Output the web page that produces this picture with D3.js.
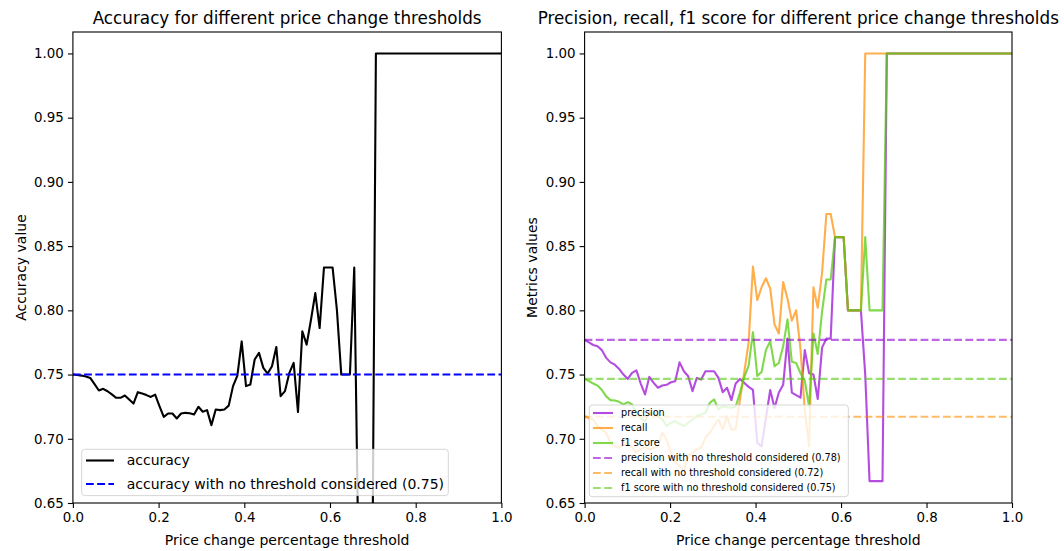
<!DOCTYPE html>
<html>
<head>
<meta charset="utf-8">
<script src="https://cdn.jsdelivr.net/npm/d3@7"></script>
<style>
  body { margin: 0; background: #fff; }
  text { font-family: "DejaVu Sans", sans-serif; fill: #000; }
</style>
</head>
<body>
<div id="chart"></div>
<script>
// thresholds (x) shared by both panels: 100 evenly spaced steps from 0 to 1
const thresholds = [
  0.0000, 0.0101, 0.0202, 0.0303, 0.0404, 0.0505, 0.0606, 0.0707, 0.0808, 0.0909,
  0.1010, 0.1111, 0.1212, 0.1313, 0.1414, 0.1515, 0.1616, 0.1717, 0.1818, 0.1919,
  0.2020, 0.2121, 0.2222, 0.2323, 0.2424, 0.2525, 0.2626, 0.2727, 0.2828, 0.2929,
  0.3030, 0.3131, 0.3232, 0.3333, 0.3434, 0.3535, 0.3636, 0.3737, 0.3838, 0.3939,
  0.4040, 0.4141, 0.4242, 0.4343, 0.4444, 0.4545, 0.4646, 0.4747, 0.4848, 0.4949,
  0.5051, 0.5152, 0.5253, 0.5354, 0.5455, 0.5556, 0.5657, 0.5758, 0.5859, 0.5960,
  0.6061, 0.6162, 0.6263, 0.6364, 0.6465, 0.6566, 0.6667, 0.6768, 0.6869, 0.6970,
  0.7071, 0.7172, 0.7273, 0.7374, 0.7475, 0.7576, 0.7677, 0.7778, 0.7879, 0.7980,
  0.8081, 0.8182, 0.8283, 0.8384, 0.8485, 0.8586, 0.8687, 0.8788, 0.8889, 0.8990,
  0.9091, 0.9192, 0.9293, 0.9394, 0.9495, 0.9596, 0.9697, 0.9798, 0.9899, 1.0000
];
const accuracy = [
  0.750, 0.7496, 0.7492, 0.7485, 0.7474, 0.7425, 0.7376, 0.7389, 0.7370, 0.7345,
  0.7319, 0.7319, 0.7337, 0.7305, 0.7274, 0.7363, 0.7352, 0.7340, 0.7326, 0.7344,
  0.7255, 0.7171, 0.7197, 0.7197, 0.7158, 0.7197, 0.7202, 0.7199, 0.7189, 0.7249,
  0.7210, 0.7223, 0.7106, 0.7228, 0.7223, 0.7228, 0.7258, 0.7410, 0.7492, 0.7758,
  0.7410, 0.7423, 0.7617, 0.7669, 0.7552, 0.7508, 0.7565, 0.7715, 0.7332, 0.7371,
  0.7513, 0.7591, 0.7208, 0.7836, 0.7733, 0.7927, 0.8134, 0.7862, 0.8333, 0.8333,
  0.8333, 0.8000, 0.7500, 0.7500, 0.7500, 0.8333, 0.6000, 0.5000, 0.5000, 0.5000,
  1, 1, 1, 1, 1, 1, 1, 1, 1, 1,
  1, 1, 1, 1, 1, 1, 1, 1, 1, 1,
  1, 1, 1, 1, 1, 1, 1, 1, 1, 1
];
const precision = [
  0.777, 0.775, 0.773, 0.772, 0.769, 0.763, 0.7595, 0.7577, 0.7544, 0.750,
  0.7466, 0.7513, 0.7533, 0.743, 0.7345, 0.7482, 0.7435, 0.7397, 0.7415, 0.7420,
  0.7440, 0.7448, 0.7595, 0.7526, 0.7487, 0.7371, 0.7474, 0.7461, 0.7526, 0.7526,
  0.7526, 0.7474, 0.7363, 0.7397, 0.7301, 0.7430, 0.7466, 0.7435, 0.7404, 0.738,
  0.697, 0.694, 0.716, 0.738, 0.724, 0.736, 0.742, 0.778, 0.736, 0.734,
  0.732, 0.769, 0.751, 0.750, 0.731, 0.771, 0.778, 0.778, 0.857, 0.857,
  0.857, 0.800, 0.800, 0.800, 0.800, 0.750, 0.667, 0.667, 0.667, 0.667,
  1, 1, 1, 1, 1, 1, 1, 1, 1, 1,
  1, 1, 1, 1, 1, 1, 1, 1, 1, 1,
  1, 1, 1, 1, 1, 1, 1, 1, 1, 1
];
const recall = [
  0.7176, 0.716, 0.715, 0.7099, 0.707, 0.7047, 0.697, 0.6944, 0.6931, 0.695,
  0.697, 0.6931, 0.6892, 0.692, 0.6935, 0.6918, 0.693, 0.6944, 0.7047, 0.6996,
  0.6892, 0.6815, 0.6789, 0.675, 0.6867, 0.6892, 0.6918, 0.6931, 0.7009, 0.7047,
  0.710, 0.715, 0.7073, 0.7176, 0.7073, 0.7073, 0.7306, 0.752, 0.775, 0.834,
  0.808, 0.818, 0.825, 0.817, 0.789, 0.782, 0.822, 0.809, 0.792, 0.800,
  0.770, 0.722, 0.694, 0.818, 0.802, 0.829, 0.875, 0.875, 0.857, 0.857,
  0.857, 0.800, 0.800, 0.800, 0.800, 1, 1, 1, 1, 1,
  1, 1, 1, 1, 1, 1, 1, 1, 1, 1,
  1, 1, 1, 1, 1, 1, 1, 1, 1, 1,
  1, 1, 1, 1, 1, 1, 1, 1, 1, 1
];
const f1score = [
  0.7466, 0.745, 0.743, 0.7414, 0.738, 0.733, 0.7301, 0.7298, 0.7288, 0.7267,
  0.7285, 0.7267, 0.7203, 0.7160, 0.7138, 0.7203, 0.7190, 0.7177, 0.7151, 0.7099,
  0.7125, 0.7138, 0.7115, 0.7099, 0.7125, 0.7150, 0.7177, 0.7190, 0.7203, 0.7280,
  0.7306, 0.7228, 0.7254, 0.7245, 0.7241, 0.7250, 0.736, 0.748, 0.757, 0.783,
  0.749, 0.752, 0.769, 0.776, 0.7565, 0.759, 0.772, 0.793, 0.760, 0.759,
  0.751, 0.745, 0.725, 0.782, 0.766, 0.799, 0.824, 0.824, 0.857, 0.857,
  0.857, 0.800, 0.800, 0.800, 0.800, 0.857, 0.800, 0.800, 0.800, 0.800,
  1, 1, 1, 1, 1, 1, 1, 1, 1, 1,
  1, 1, 1, 1, 1, 1, 1, 1, 1, 1,
  1, 1, 1, 1, 1, 1, 1, 1, 1, 1
];
// baselines with no threshold
const baseAccuracy = 0.75;
const basePrecision = 0.777;
const baseRecall = 0.7172;
const baseF1 = 0.7466;
const xTicks = [0, 0.2, 0.4, 0.6, 0.8, 1.0];
const yTicks = [0.65, 0.70, 0.75, 0.80, 0.85, 0.90, 0.95, 1.00];

// ---------------------------------------------------------------------------
const width = 1064, height = 551;
const plotTop = 32, plotBottom = 503;
const lw = 2.1;            // 1.5pt
const dash = '7.8,3.4';    // matplotlib '--' at 1.5pt
const svg = d3.select('#chart').append('svg')
  .attr('width', width)
  .attr('height', height);

const y = d3.scaleLinear().domain([0.65, 1.0167]).range([plotBottom, plotTop]);

function makePanel (id, x0, x1, title, ylabel, ylabelX) {
  const x = d3.scaleLinear().domain([0, 1]).range([x0, x1]);
  const g = svg.append('g');
  svg.append('clipPath').attr('id', 'clip-' + id)
    .append('rect')
    .attr('x', x0).attr('y', plotTop)
    .attr('width', x1 - x0).attr('height', plotBottom - plotTop);
  const plot = g.append('g').attr('clip-path', 'url(#clip-' + id + ')');
  // axes
  const xAxis = g.append('g')
    .attr('transform', 'translate(0,' + plotBottom + ')')
    .call(d3.axisBottom(x).tickValues(xTicks).tickFormat(d3.format('.1f')).tickSize(5).tickPadding(4));
  const yAxis = g.append('g')
    .attr('transform', 'translate(' + x0 + ',0)')
    .call(d3.axisLeft(y).tickValues(yTicks).tickFormat(d3.format('.2f')).tickSize(5).tickPadding(4));
  [xAxis, yAxis].forEach(a => {
    a.select('.domain').remove();
    a.selectAll('text').attr('font-size', 13.4).attr('fill', '#000')
      .attr('font-family', '"DejaVu Sans", sans-serif');
    a.selectAll('line').attr('stroke', '#000').attr('stroke-width', 1.1);
  });
  // frame is drawn later so it sits over the lines
  const frame = () => g.append('rect')
    .attr('x', x0).attr('y', plotTop)
    .attr('width', x1 - x0).attr('height', plotBottom - plotTop)
    .attr('fill', 'none').attr('stroke', '#000').attr('stroke-width', 1.1);
  // labels
  g.append('text')
    .attr('x', (x0 + x1) / 2).attr('y', 24)
    .attr('text-anchor', 'middle').attr('font-size', 16.8)
    .text(title);
  g.append('text')
    .attr('x', (x0 + x1) / 2).attr('y', 545)
    .attr('text-anchor', 'middle').attr('font-size', 14)
    .text('Price change percentage threshold');
  g.append('text')
    .attr('transform', 'translate(' + ylabelX + ',' + ((plotTop + plotBottom) / 2) + ') rotate(-90)')
    .attr('text-anchor', 'middle').attr('font-size', 14)
    .text(ylabel);
  return {x, g, plot, frame};
}

function drawSeries (panel, values, color, opacity) {
  const line = d3.line()
    .x((d, i) => panel.x(thresholds[i]))
    .y(d => y(d));
  panel.plot.append('path')
    .datum(values)
    .attr('d', line)
    .attr('fill', 'none')
    .attr('stroke', color)
    .attr('stroke-opacity', opacity)
    .attr('stroke-width', lw)
    .attr('stroke-linejoin', 'round');
}

function drawBase (panel, value, color, opacity) {
  panel.plot.append('line')
    .attr('x1', panel.x(0)).attr('x2', panel.x(1))
    .attr('y1', y(value)).attr('y2', y(value))
    .attr('stroke', color)
    .attr('stroke-opacity', opacity)
    .attr('stroke-width', lw)
    .attr('stroke-dasharray', dash);
}

function drawLegend (panel, box, items, fontSize, rowY, handle, textX) {
  const lg = panel.g.append('g');
  lg.append('rect')
    .attr('x', box[0]).attr('y', box[1])
    .attr('width', box[2]).attr('height', box[3])
    .attr('rx', 3)
    .attr('fill', '#fff').attr('fill-opacity', 0.8)
    .attr('stroke', '#ccc').attr('stroke-opacity', 0.8);
  items.forEach((it, i) => {
    const cy = rowY[i];
    lg.append('line')
      .attr('x1', handle[0]).attr('x2', handle[1])
      .attr('y1', cy).attr('y2', cy)
      .attr('stroke', it.color).attr('stroke-opacity', it.opacity)
      .attr('stroke-width', lw)
      .attr('stroke-dasharray', it.dash ? dash : null);
    lg.append('text')
      .attr('x', textX).attr('y', cy)
      .attr('dy', '0.35em')
      .attr('font-size', fontSize)
      .text(it.label);
  });
}

// 左パネル: accuracy ---------------------------------------------------------
const left = makePanel('acc', 72.9, 501.4,
  'Accuracy for different price change thresholds', 'Accuracy value', 26);
drawSeries(left, accuracy, '#000', 1);
drawBase(left, baseAccuracy, '#0000ff', 1);
left.frame();
drawLegend(left, [81.7, 449.3, 366.6, 46.3], [
  {label: 'accuracy', color: '#000', opacity: 1},
  {label: 'accuracy with no threshold considered (0.75)', color: '#0000ff', opacity: 1, dash: true}
], 14, [460.5, 484], [86, 114], 126.7);

// 右パネル: precision / recall / f1 -----------------------------------------
const cPrec = '#9400d3', cRec = '#ff8c00', cF1 = '#55cc11';
const right = makePanel('prf', 584.6, 1012,
  'Precision, recall, f1 score for different price change thresholds', 'Metrics values', 537);
drawSeries(right, precision, cPrec, 0.7);
drawSeries(right, recall, cRec, 0.7);
drawSeries(right, f1score, cF1, 0.75);
drawBase(right, basePrecision, cPrec, 0.6);
drawBase(right, baseRecall, cRec, 0.6);
drawBase(right, baseF1, cF1, 0.6);
right.frame();
drawLegend(right, [589.3, 405, 259, 91.7], [
  {label: 'precision', color: cPrec, opacity: 0.7},
  {label: 'recall', color: cRec, opacity: 0.7},
  {label: 'f1 score', color: cF1, opacity: 0.75},
  {label: 'precision with no threshold considered (0.78)', color: cPrec, opacity: 0.6, dash: true},
  {label: 'recall with no threshold considered (0.72)', color: cRec, opacity: 0.6, dash: true},
  {label: 'f1 score with no threshold considered (0.75)', color: cF1, opacity: 0.6, dash: true}
], 9.7, [413, 428, 443, 458, 473, 488], [593, 613], 621);
</script>
</body>
</html>
